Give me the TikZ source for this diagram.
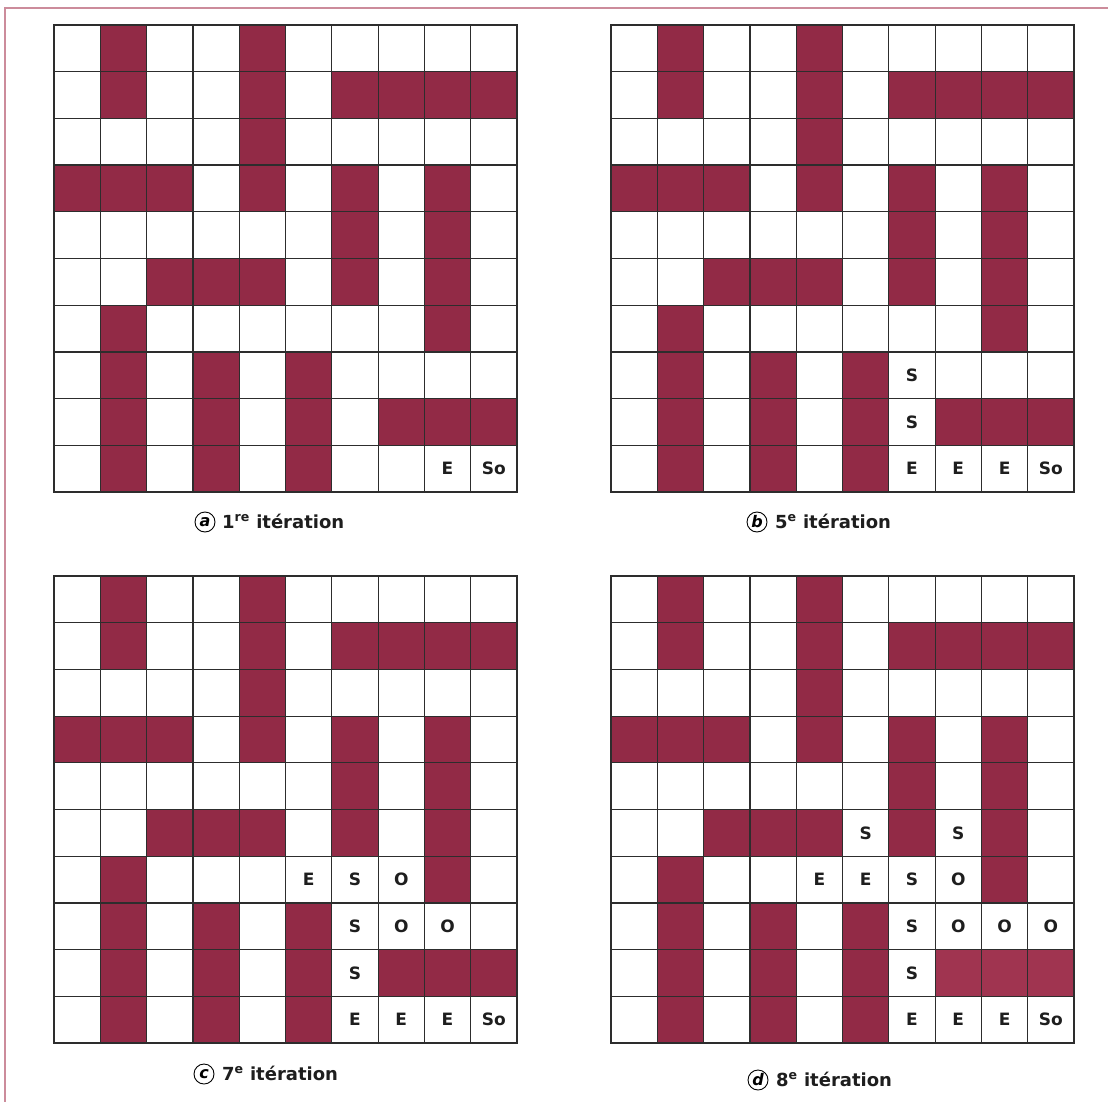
\documentclass[tikz,border=0pt]{standalone}
\usepackage{fontspec}
\setmainfont{DejaVu Sans}
\definecolor{wine}{RGB}{146,42,70}
\definecolor{winelight}{RGB}{160,52,80}
\definecolor{gridc}{RGB}{45,45,45}
\definecolor{frame}{RGB}{204,140,155}
\definecolor{txt}{RGB}{30,30,30}
\tikzset{
  gridline/.style={draw=gridc, line width=1.2pt, line cap=rect},
  lbl/.style={font=\bfseries\fontsize{17}{18}\selectfont, text=txt, inner sep=0pt},
  captext/.style={font=\bfseries\fontsize{18}{20}\selectfont, text=txt, inner sep=0pt, anchor=west},
  circ/.style={circle, draw=black, line width=0.9pt, minimum size=20pt, inner sep=0pt,
     font=\bfseries\itshape\fontsize{16}{17}\selectfont},
}
\newcommand\drawgrid[3]{%
  \begin{scope}[shift={(#1pt,-#2pt)}, x={(46.3pt,0)}, y={(0,-46.7pt)}]
    \foreach \c/\r in {1/0,4/0, 1/1,4/1,6/1,7/1,8/1,9/1, 4/2, 0/3,1/3,2/3,4/3,6/3,8/3,
        6/4,8/4, 2/5,3/5,4/5,6/5,8/5, 1/6,8/6, 1/7,3/7,5/7, 1/8,3/8,5/8,7/8,8/8,9/8,
        1/9,3/9,5/9}
      \fill[wine] (\c,\r) rectangle ++(1,1);
    #3
    \foreach \k in {0,...,10} {
      \draw[gridline] (\k,0) -- (\k,10);
      \draw[gridline] (0,\k) -- (10,\k);
    }
  \end{scope}}
\begin{document}
\begin{tikzpicture}[x=1pt,y=1pt]
\useasboundingbox (0,0) rectangle (1108,-1102);
\fill[white] (0,0) rectangle (1108,-1102);
\draw[frame, line width=2pt] (1108,-8) -- (5,-8) -- (5,-1102);

% grid a
\drawgrid{54}{25}{%
  \node[lbl] (a-E) at (8.5,9.5) {E};
  \node[lbl] (a-So) at (9.5,9.5) {So};}
% grid b
\drawgrid{611}{25}{%
  \node[lbl] (b-S1) at (6.5,7.5) {S};
  \node[lbl] (b-S2) at (6.5,8.5) {S};
  \node[lbl] (b-E1) at (6.5,9.5) {E};
  \node[lbl] (b-E2) at (7.5,9.5) {E};
  \node[lbl] (b-E3) at (8.5,9.5) {E};
  \node[lbl] (b-So) at (9.5,9.5) {So};}
% grid c
\drawgrid{54}{576}{%
  \node[lbl] (c-E0) at (5.5,6.5) {E};
  \node[lbl] (c-S0) at (6.5,6.5) {S};
  \node[lbl] (c-O0) at (7.5,6.5) {O};
  \node[lbl] (c-S1) at (6.5,7.5) {S};
  \node[lbl] (c-O1) at (7.5,7.5) {O};
  \node[lbl] (c-O2) at (8.5,7.5) {O};
  \node[lbl] (c-S2) at (6.5,8.5) {S};
  \node[lbl] (c-E1) at (6.5,9.5) {E};
  \node[lbl] (c-E2) at (7.5,9.5) {E};
  \node[lbl] (c-E3) at (8.5,9.5) {E};
  \node[lbl] (c-So) at (9.5,9.5) {So};}
% grid d
\drawgrid{611}{576}{%
  \fill[winelight] (7,8) rectangle (10,9);
  \node[lbl] (d-Sa) at (5.5,5.5) {S};
  \node[lbl] (d-Sb) at (7.5,5.5) {S};
  \node[lbl] (d-E0) at (4.5,6.5) {E};
  \node[lbl] (d-E00) at (5.5,6.5) {E};
  \node[lbl] (d-S0) at (6.5,6.5) {S};
  \node[lbl] (d-O0) at (7.5,6.5) {O};
  \node[lbl] (d-S1) at (6.5,7.5) {S};
  \node[lbl] (d-O1) at (7.5,7.5) {O};
  \node[lbl] (d-O2) at (8.5,7.5) {O};
  \node[lbl] (d-O3) at (9.5,7.5) {O};
  \node[lbl] (d-S2) at (6.5,8.5) {S};
  \node[lbl] (d-E1) at (6.5,9.5) {E};
  \node[lbl] (d-E2) at (7.5,9.5) {E};
  \node[lbl] (d-E3) at (8.5,9.5) {E};
  \node[lbl] (d-So) at (9.5,9.5) {So};}

% captions
\node[circ] (circA) at (205,-522) {a};
\node[captext] (capA) at (222,-521) {1\textsuperscript{re} itération};
\node[circ] (circB) at (757,-522) {b};
\node[captext] (capB) at (775,-521) {5\textsuperscript{e} itération};
\node[circ] (circC) at (204,-1074) {c};
\node[captext] (capC) at (222,-1073) {7\textsuperscript{e} itération};
\node[circ] (circD) at (758,-1080) {d};
\node[captext] (capD) at (776,-1079) {8\textsuperscript{e} itération};
\end{tikzpicture}
\end{document}
